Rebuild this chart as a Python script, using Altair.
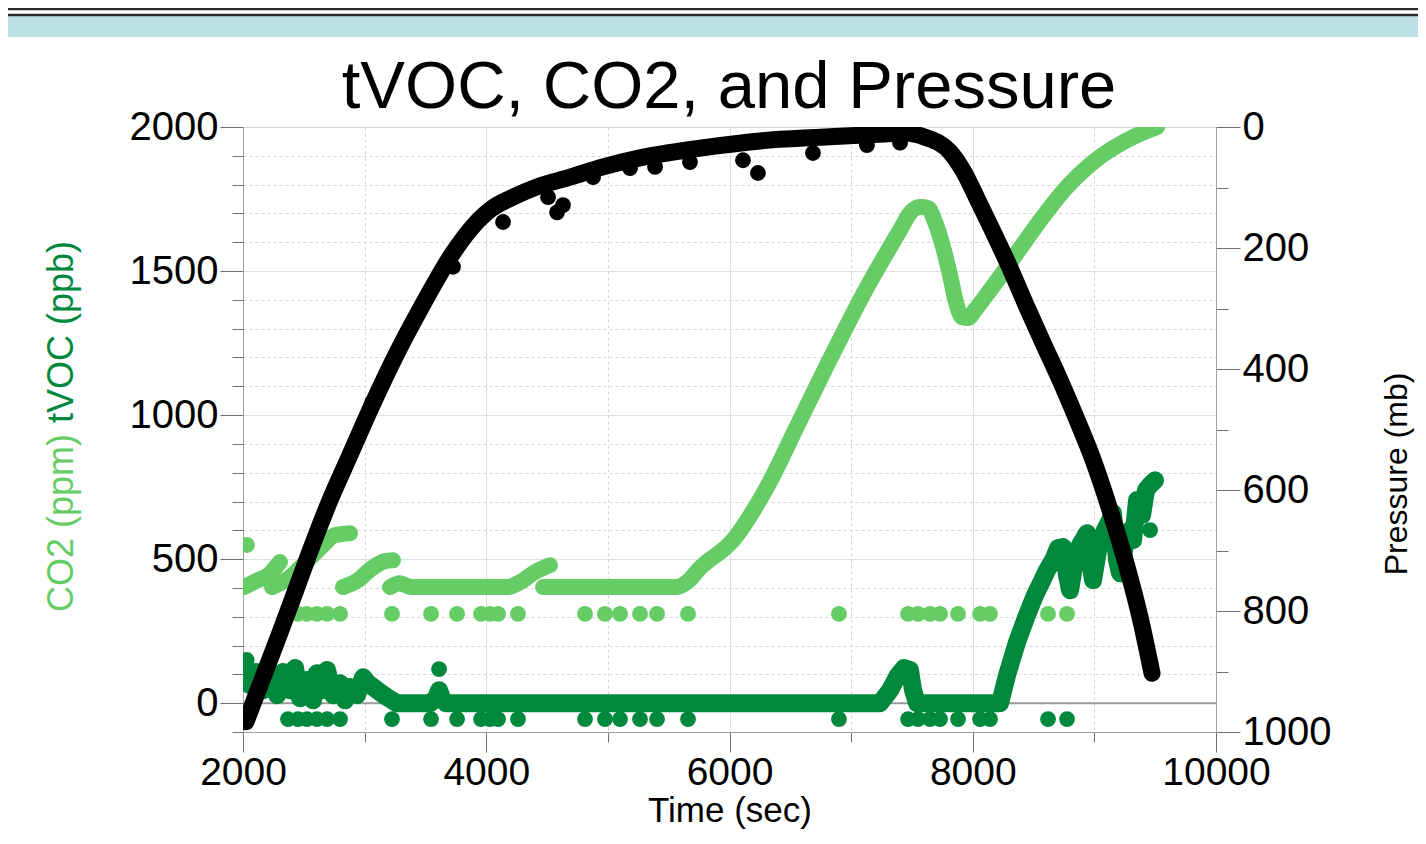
import altair as alt
import pandas as pd

# ---------------- data ----------------
# Pressure (mb), black, right axis
P_TIME = [2025, 2156, 2304, 2444, 2576, 2715, 2880, 3061, 3250, 3455, 3727, 3866,
          4031, 4220, 4417, 4689, 4960, 5264, 5758, 6251, 6744, 7238, 7443, 7608,
          7813, 7920, 8035, 8167, 8306, 8446, 8578, 8717, 8857, 8989, 9128, 9268,
          9375, 9474]
P_VAL = [983, 914, 836, 760, 688, 617, 542, 460, 380, 302, 208, 170,
         137, 116, 99, 83, 66, 51, 35, 23, 17, 12, 10, 17,
         41, 72, 118, 173, 233, 298, 357, 418, 484, 550, 633, 727,
         810, 903]
P_OUT_TIME = [2740, 3061, 3727, 4138, 4508, 4582, 4631, 4878, 5182, 5388, 5675,
              6111, 6234, 6686, 7130, 7402]
P_OUT_VAL = [605, 455, 231, 157, 116, 141, 129, 83, 68, 66, 58,
             55, 76, 43, 30, 26]

# CO2 (ppm), light green, left axis (drawn in pieces where the record jumps)
CO2_SEG = [1, 1, 1, 1,
           2, 2, 2, 2, 2, 2,
           3, 3, 3, 3, 3,
           4, 4, 4, 4, 4, 4, 4,
           5, 5, 5, 5, 5, 5, 5, 5, 5, 5, 5, 5, 5, 5, 5, 5, 5, 5, 5, 5, 5, 5, 5, 5, 5, 5, 5]
CO2_TIME = [2008, 2123, 2206, 2304,
            2238, 2386, 2510, 2633, 2756, 2880,
            2822, 2946, 3061, 3168, 3233,
            3209, 3290, 3380, 4171, 4278, 4401, 4524,
            4467, 5568, 5650, 5757, 6029, 6308, 6580, 6851, 7131, 7402, 7484, 7566,
            7632, 7690, 7747, 7813, 7862, 7912, 7961, 8019, 8101, 8282, 8496, 8775,
            9046, 9318, 9515]
CO2_VAL = [403, 427, 444, 490,
           403, 437, 486, 538, 583, 590,
           403, 427, 469, 493, 496,
           403, 416, 403, 403, 420, 455, 479,
           403, 403, 420, 469, 566, 750, 983, 1215, 1444, 1642, 1701, 1722,
           1719, 1670, 1597, 1486, 1392, 1340, 1337, 1365, 1410, 1514, 1642, 1792,
           1896, 1965, 2000]

# occasional low readings (both sensors at the same instants)
OUT_TIME = [2370, 2452, 2526, 2608, 2691, 2798, 3225, 3546, 3760, 3957, 4031, 4097,
            4261, 4812, 4976, 5100, 5264, 5404, 5659, 6900, 7468, 7550, 7649, 7731,
            7879, 8060, 8142, 8619, 8775]
CO2_OUT_VAL = [310, 310, 310, 310, 310, 310, 310, 310, 310, 310, 310, 310,
               310, 310, 310, 310, 310, 310, 310, 310, 310, 310, 310, 310,
               310, 310, 310, 310, 310]
TVOC_OUT_VAL = [-55, -55, -55, -55, -55, -55, -55, -55, -55, -55, -55, -55,
                -55, -55, -55, -55, -55, -55, -55, -55, -55, -55, -55, -55,
                -55, -55, -55, -55, -55]
CO2_EXTRA_TIME = [2033]
CO2_EXTRA_VAL = [549]

# tVOC (ppb), dark green, left axis
TVOC_TIME = [2008, 2058, 2107, 2164, 2222, 2280, 2329, 2386, 2428, 2469, 2526, 2576,
             2608, 2650, 2691, 2740, 2798, 2839, 2880, 2937, 2987, 3028, 3069, 3126,
             3184, 3266, 3538, 3587, 3612, 3636, 3669, 7237, 7320, 7385, 7435, 7484,
             7509, 7542, 8224, 8282, 8364, 8446, 8512, 8553, 8611, 8660, 8701, 8742,
             8775, 8800, 8841, 8882, 8940, 8964, 8989, 9030, 9087, 9128, 9153, 9186,
             9211, 9252, 9293, 9318, 9351, 9392, 9425, 9458, 9499]
TVOC_VAL = [122, 63, 108, 45, 97, 28, 108, 45, 122, 17, 80, 10,
            104, 45, 115, 28, 69, 10, 56, 28, 90, 69, 56, 38,
            21, 0, 0, 17, 45, 17, 0, 0, 45, 97, 122, 115,
            45, 0, 0, 97, 212, 306, 375, 410, 462, 496, 538, 542,
            444, 392, 496, 549, 590, 496, 427, 531, 601, 635, 660, 496,
            451, 549, 601, 566, 705, 653, 740, 757, 774]
TVOC_EXTRA_TIME = [3612, 9458, 2030, 8800, 8989]
TVOC_EXTRA_VAL = [118, 601, 150, 420, 440]

# axis ticks / labels
X_TICKS = list(range(2000, 10001, 1000))
LEFT_TICKS = list(range(-100, 2001, 100))
RIGHT_TICKS = list(range(0, 1001, 100))

TITLE = "tVOC, CO2, and Pressure"
X_TITLE = "Time (sec)"
CO2_TITLE = "CO2 (ppm)"
TVOC_TITLE = "tVOC (ppb)"
P_TITLE = "Pressure (mb)"

# ---------------- styling ----------------
FONT = "Liberation Sans"
LIGHT = "#66cc66"
DARK = "#00893d"
W, H = 973, 605
LW = 16
DOT = 250
GRID = "#d4d4d4"

p_df = pd.DataFrame({"t": P_TIME, "p": P_VAL})
p_out = pd.DataFrame({"t": P_OUT_TIME, "p": P_OUT_VAL})
co2_df = pd.DataFrame({"t": CO2_TIME, "v": CO2_VAL, "seg": CO2_SEG})
co2_out = pd.DataFrame({"t": OUT_TIME + CO2_EXTRA_TIME, "v": CO2_OUT_VAL + CO2_EXTRA_VAL})
tvoc_df = pd.DataFrame({"t": TVOC_TIME, "v": TVOC_VAL})
tvoc_out = pd.DataFrame({"t": OUT_TIME + TVOC_EXTRA_TIME, "v": TVOC_OUT_VAL + TVOC_EXTRA_VAL})

x_axis = alt.Axis(
    values=X_TICKS, format="d",
    labelExpr="datum.value % 2000 === 0 ? datum.label : ''",
    tickSize={"condition": {"test": "datum.value % 2000 === 0", "value": 20}, "value": 10},
    tickColor="#707070", domainColor="#a0a0a0",
    grid=True, gridColor=GRID,
    gridDash={"condition": {"test": "datum.value % 2000 === 0", "value": [1, 0]}, "value": [3, 3]},
    labelFont=FONT, labelFontSize=39, labelColor="black", labelPadding=1,
    labelFlush=False, labelOverlap=False,
    title=X_TITLE, titleFont=FONT, titleFontSize=35, titleFontWeight="normal",
    titleColor="black", titlePadding=1,
)
x_enc = alt.X("t:Q", scale=alt.Scale(domain=[2000, 10000], nice=False, zero=False), axis=x_axis)

left_axis = alt.Axis(
    values=LEFT_TICKS, format="d",
    labelExpr="datum.value % 500 === 0 ? datum.label : ''",
    tickSize={"condition": {"test": "datum.value % 500 === 0", "value": 23}, "value": 11},
    tickColor="#707070", domainColor="#a0a0a0",
    grid=True, gridColor=GRID,
    gridDash={"condition": {"test": "datum.value % 500 === 0", "value": [1, 0]}, "value": [3, 3]},
    labelFont=FONT, labelFontSize=40, labelColor="black", labelPadding=2,
    labelFlush=False, labelOverlap=False, title=None,
)
y_left = alt.Y("v:Q", scale=alt.Scale(domain=[-100, 2000], nice=False, zero=False), axis=left_axis)

right_axis = alt.Axis(
    orient="right", values=RIGHT_TICKS, format="d",
    labelExpr="datum.value % 200 === 0 ? datum.label : ''",
    tickSize={"condition": {"test": "datum.value % 200 === 0", "value": 24}, "value": 12},
    tickColor="#707070", domainColor="#a0a0a0", grid=False,
    labelFont=FONT, labelFontSize=40, labelColor="black", labelPadding=2,
    labelFlush=False, labelOverlap=False, title=None,
)
y_right = alt.Y("p:Q", scale=alt.Scale(domain=[0, 1000], reverse=True, nice=False, zero=False),
                axis=right_axis)

one = alt.Data(values=[{}])

# decorative page band at the top (outside the plot area)
band_blue = alt.Chart(one).mark_rect(color="#bae0e4").encode(
    x=alt.value(-240), x2=alt.value(1300), y=alt.value(-119), y2=alt.value(-90))
band_white = alt.Chart(one).mark_rect(color="white").encode(
    x=alt.value(-240), x2=alt.value(1300), y=alt.value(-119), y2=alt.value(-111))
line1 = alt.Chart(one).mark_rule(color="#2a2a2a", strokeWidth=2.4).encode(
    x=alt.value(-240), x2=alt.value(1300), y=alt.value(-118))
line2 = alt.Chart(one).mark_rule(color="#2a2a2a", strokeWidth=2.4).encode(
    x=alt.value(-240), x2=alt.value(1300), y=alt.value(-112))

# left group
zero = alt.Chart(alt.Data(values=[{"v": 0}])).mark_rule(color="#9a9a9a", strokeWidth=2).encode(y=y_left)
co2_line = alt.Chart(co2_df).mark_line(
    color=LIGHT, strokeWidth=LW, strokeCap="round", strokeJoin="round", clip=True,
    interpolate="monotone"
).encode(x=x_enc, y=y_left, detail="seg:N")
co2_pts = alt.Chart(co2_out).mark_circle(color=LIGHT, size=DOT, opacity=1, clip=True).encode(x=x_enc, y=y_left)
tvoc_line = alt.Chart(tvoc_df).mark_line(
    color=DARK, strokeWidth=LW + 2, strokeCap="round", strokeJoin="round", clip=True
).encode(x=x_enc, y=y_left)
tvoc_pts = alt.Chart(tvoc_out).mark_circle(color=DARK, size=DOT, opacity=1, clip=True).encode(x=x_enc, y=y_left)
left = alt.layer(zero, co2_line, co2_pts, tvoc_line, tvoc_pts)

# right group
p_line = alt.Chart(p_df).mark_line(
    color="black", strokeWidth=LW + 1, strokeCap="round", strokeJoin="round", clip=True,
    interpolate="monotone"
).encode(x=x_enc, y=y_right)
p_pts = alt.Chart(p_out).mark_circle(color="black", size=DOT, opacity=1, clip=True).encode(x=x_enc, y=y_right)
right = alt.layer(p_line, p_pts)

# texts
title = alt.Chart(one).mark_text(
    text=TITLE, font=FONT, fontSize=67, color="black", align="center", baseline="alphabetic"
).encode(x=alt.value(486), y=alt.value(-19))
co2_t = alt.Chart(one).mark_text(
    text=CO2_TITLE, font=FONT, fontSize=36, color=LIGHT, angle=270, align="left", baseline="middle"
).encode(x=alt.value(-181), y=alt.value(485))
tvoc_t = alt.Chart(one).mark_text(
    text=TVOC_TITLE, font=FONT, fontSize=36, color=DARK, angle=270, align="left", baseline="middle"
).encode(x=alt.value(-181), y=alt.value(296))
p_t = alt.Chart(one).mark_text(
    text=P_TITLE, font=FONT, fontSize=32, color="black", angle=270, align="center", baseline="middle"
).encode(x=alt.value(1154), y=alt.value(347))

chart = alt.layer(
    band_blue, band_white, line1, line2, left, right, title, co2_t, tvoc_t, p_t
).resolve_scale(y="independent").properties(
    width=W, height=H,
    background="white",
    autosize=alt.AutoSizeParams(type="none"),
    padding={"left": 235, "top": 119, "right": 202, "bottom": 100},
).configure_view(stroke="#a0a0a0", strokeWidth=1.5).configure(font=FONT)

chart.save("out.html", embed_options={"renderer": "svg", "actions": False})
